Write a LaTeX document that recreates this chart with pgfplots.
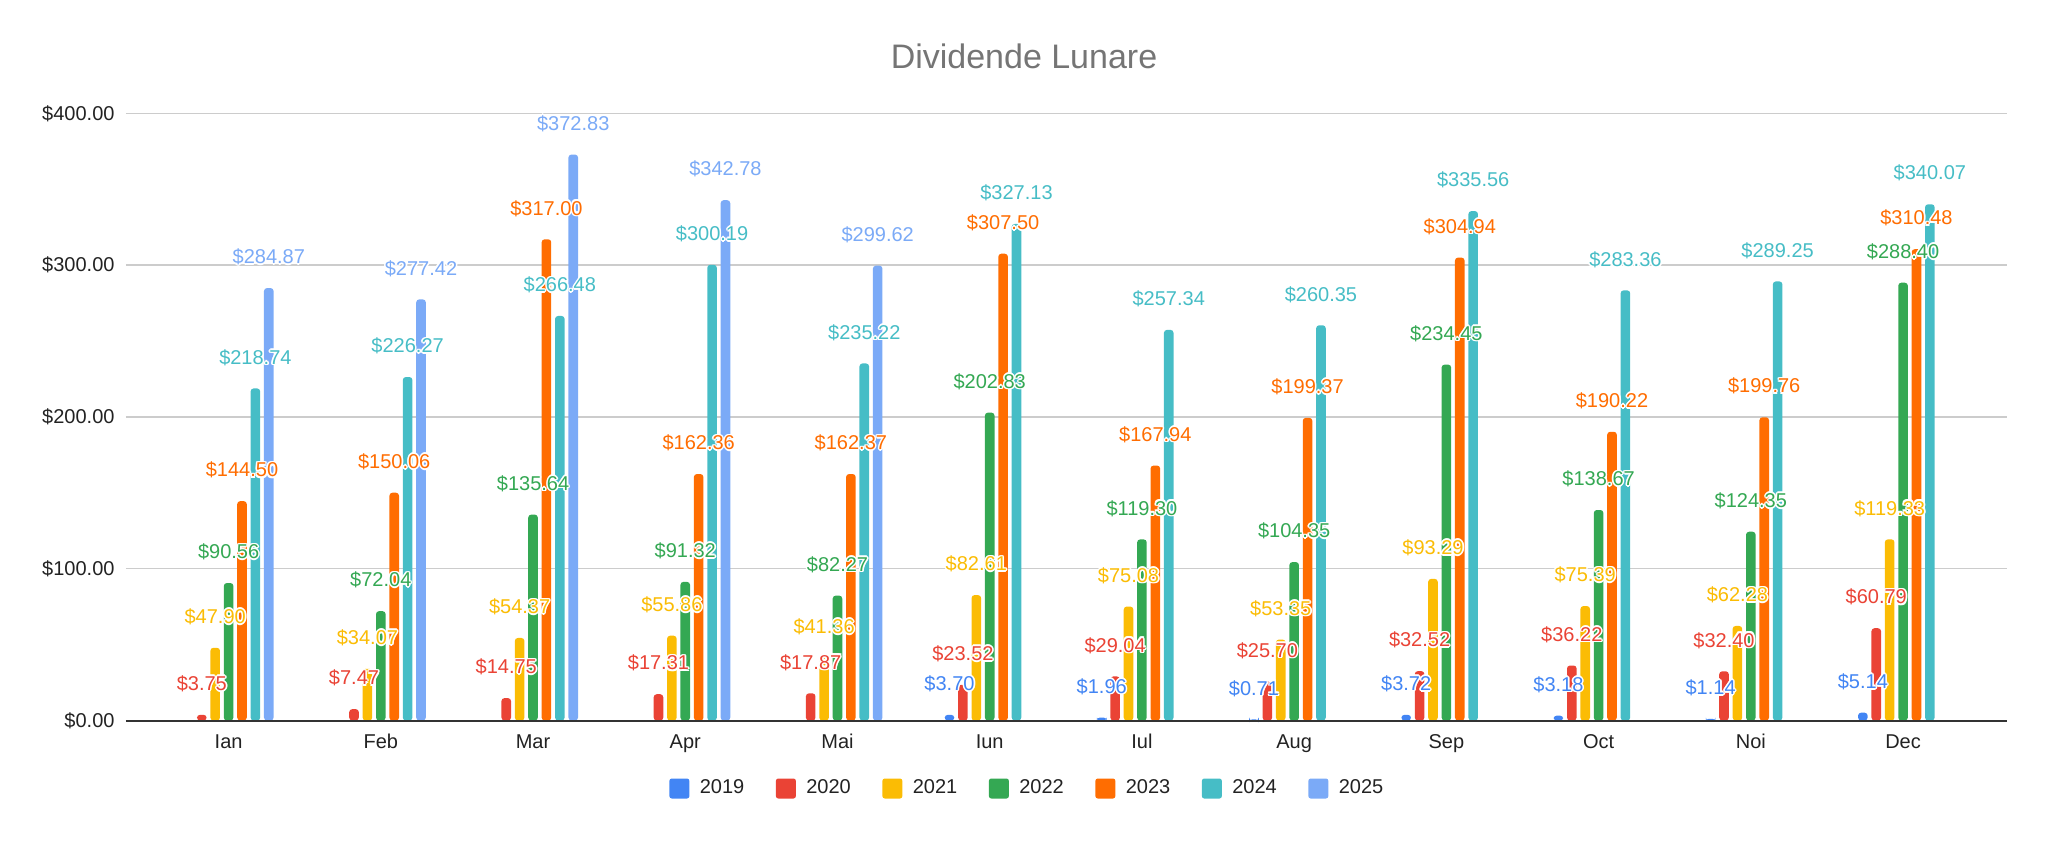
\documentclass[border=0pt]{standalone}
\usepackage{fontspec}
\setmainfont{Liberation Sans}
\usepackage{pgfplots}
\pgfplotsset{compat=1.18}
\definecolor{c2019}{HTML}{4285F4}
\definecolor{c2020}{HTML}{EA4335}
\definecolor{c2021}{HTML}{FBBC04}
\definecolor{c2022}{HTML}{34A853}
\definecolor{c2023}{HTML}{FF6D01}
\definecolor{c2024}{HTML}{46BDC6}
\definecolor{c2025}{HTML}{7BAAF7}
\definecolor{gridc}{HTML}{CCCCCC}
\definecolor{basec}{HTML}{333333}
\definecolor{titlec}{HTML}{757575}
\definecolor{txt}{HTML}{222222}
\newcommand\halo[1]{%
 \leavevmode\rlap{\color{white}\hspace{0.8pt}#1}%
 \rlap{\color{white}\hspace{-0.8pt}#1}%
 \rlap{\color{white}\raisebox{0.8pt}{#1}}%
 \rlap{\color{white}\raisebox{-0.8pt}{#1}}%
 \rlap{\color{white}\hspace{0.57pt}\raisebox{0.57pt}{#1}}%
 \rlap{\color{white}\hspace{-0.57pt}\raisebox{0.57pt}{#1}}%
 \rlap{\color{white}\hspace{0.57pt}\raisebox{-0.57pt}{#1}}%
 \rlap{\color{white}\hspace{-0.57pt}\raisebox{-0.57pt}{#1}}%
 #1}
\begin{document}
\begin{tikzpicture}
\path[use as bounding box] (-63pt,-60.25pt) rectangle (961pt,360.25pt);
\begin{axis}[
 at={(0,0)}, anchor=south west,
 scale only axis, width=940.5pt, height=303.6pt,
 xmin=-0.674, xmax=11.683, ymin=0, ymax=400,
 ybar=1.9pt, bar width=4.8pt,
 axis line style={draw=none},
 major tick length=0pt,
 ytick={0,100,200,300,400},
 ymajorgrids, grid style={gridc, line width=0.7pt},
 xtick={0,...,11},
 xticklabels={Ian,Feb,Mar,Apr,Mai,Iun,Iul,Aug,Sep,Oct,Noi,Dec},
 xticklabel style={anchor=base, yshift=-13.9pt, font=\fontsize{10}{12}\selectfont, text=txt},
 yticklabel style={font=\fontsize{10}{12}\selectfont, text=txt, xshift=-2.2pt},
 yticklabel={\$\pgfmathprintnumber[fixed,fixed zerofill,precision=2]{\tick}},
 /pgf/number format/assume math mode=true,
 point meta=y,
 nodes near coords={\halo{\$\pgfmathprintnumber[fixed,fixed zerofill,precision=2]{\pgfplotspointmeta}}},
 every node near coord/.append style={font=\fontsize{10}{12}\selectfont, anchor=center, yshift=15.5pt},
 clip=false,
 legend columns=7,
 legend style={at={(0.4797,-0.112)}, anchor=center, draw=none, fill=none,
   font=\fontsize{10}{12}\selectfont, text=txt,
   /tikz/every odd column/.append style={column sep=3.2pt},
   /tikz/every even column/.append style={column sep=13.8pt}},
 every axis plot post/.append style={draw=none, rounded corners=1.5pt,
   legend image code/.code={\fill[##1,draw=none,rounded corners=1.2pt](0pt,-5pt) rectangle (10pt,5pt);}},
]
\addplot[fill=c2019, every node near coord/.append style={text=c2019}] coordinates {(5,3.70) (6,1.96) (7,0.71) (8,3.72) (9,3.18) (10,1.14) (11,5.14)};
\addplot[fill=c2020, every node near coord/.append style={text=c2020}] coordinates {(0,3.75) (1,7.47) (2,14.75) (3,17.31) (4,17.87) (5,23.52) (6,29.04) (7,25.70) (8,32.52) (9,36.22) (10,32.40) (11,60.79)};
\addplot[fill=c2021, every node near coord/.append style={text=c2021}] coordinates {(0,47.90) (1,34.07) (2,54.37) (3,55.86) (4,41.36) (5,82.61) (6,75.08) (7,53.35) (8,93.29) (9,75.39) (10,62.28) (11,119.33)};
\addplot[fill=c2022, every node near coord/.append style={text=c2022}] coordinates {(0,90.56) (1,72.04) (2,135.64) (3,91.32) (4,82.27) (5,202.83) (6,119.30) (7,104.35) (8,234.45) (9,138.67) (10,124.35) (11,288.40)};
\addplot[fill=c2023, every node near coord/.append style={text=c2023}] coordinates {(0,144.50) (1,150.06) (2,317.00) (3,162.36) (4,162.37) (5,307.50) (6,167.94) (7,199.37) (8,304.94) (9,190.22) (10,199.76) (11,310.48)};
\addplot[fill=c2024, every node near coord/.append style={text=c2024}] coordinates {(0,218.74) (1,226.27) (2,266.48) (3,300.19) (4,235.22) (5,327.13) (6,257.34) (7,260.35) (8,335.56) (9,283.36) (10,289.25) (11,340.07)};
\addplot[fill=c2025, every node near coord/.append style={text=c2025}] coordinates {(0,284.87) (1,277.42) (2,372.83) (3,342.78) (4,299.62)};
\draw[basec, line width=1pt] (rel axis cs:0,0) -- (rel axis cs:1,0);
\legend{2019,2020,2021,2022,2023,2024,2025}
\end{axis}
\node[font=\fontsize{17}{20}\selectfont, text=titlec, anchor=base] at (449pt,325.75pt) {Dividende Lunare};
\end{tikzpicture}
\end{document}
